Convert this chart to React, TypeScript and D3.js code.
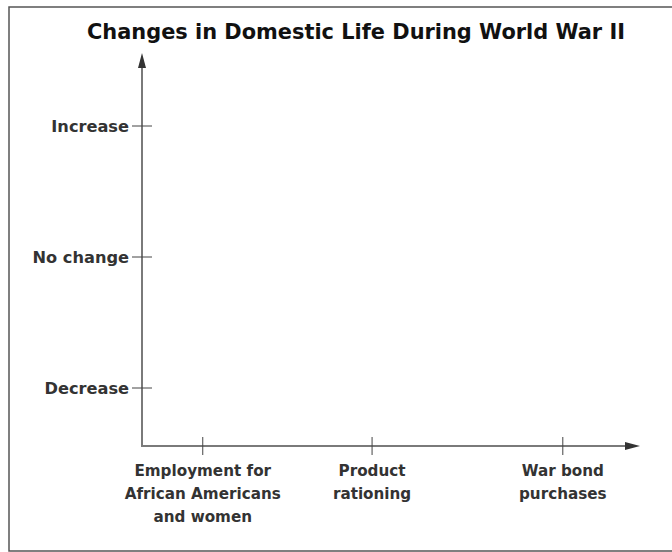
import React from "react";
import * as d3 from "d3";

const title = "Changes in Domestic Life During World War II";
const yLevels = ["Decrease", "No change", "Increase"];
const yValues = [-1, 0, 1];
const categories = [
  ["Employment for", "African Americans", "and women"],
  ["Product", "rationing"],
  ["War bond", "purchases"],
];
const categoryPositions = [1.22, 4.62, 8.45];

const W = 672;
const H = 552;
const FONT = "'DejaVu Sans', sans-serif";

export default function App() {
  const originX = 142;
  const originY = 446;
  const xEnd = 640;
  const yTop = 53;
  const x = d3.scaleLinear().domain([0, 10]).range([originX, xEnd]);
  const y = d3.scaleLinear().domain([-1, 1]).range([388, 126]);
  const axisColor = "#7a7a7a";
  const tickColor = "#444";
  const textColor = "#333";

  return (
    <svg
      width={W}
      height={H}
      style={{ position: "absolute", left: 0, top: 0, background: "#fff" }}
    >
      <rect x={9} y={7} width={W} height={544} fill="#fff" stroke="#555" strokeWidth={1.5} />
      <text
        x={356}
        y={39}
        textAnchor="middle"
        fontFamily={FONT}
        fontWeight="bold"
        fontSize={20.5}
        fill="#111"
        textLength={538}
        lengthAdjust="spacingAndGlyphs"
      >
        {title}
      </text>
      {/* y axis */}
      <line x1={originX} y1={originY} x2={originX} y2={yTop + 12} stroke={axisColor} strokeWidth={2} />
      <path
        d={`M${originX},${yTop} L${originX - 4},${yTop + 15} L${originX + 4},${yTop + 15} Z`}
        fill="#333"
      />
      {/* x axis */}
      <line x1={originX - 1} y1={originY} x2={xEnd - 12} y2={originY} stroke={axisColor} strokeWidth={2} />
      <path
        d={`M${xEnd},${originY} L${xEnd - 15},${originY - 4} L${xEnd - 15},${originY + 4} Z`}
        fill="#333"
      />
      {yValues.map((v, i) => (
        <g key={yLevels[i]}>
          <line x1={originX - 10} x2={originX + 10} y1={y(v)} y2={y(v)} stroke={tickColor} strokeWidth={1} />
          <text
            x={originX - 13}
            y={y(v)}
            dy="0.36em"
            textAnchor="end"
            fontFamily={FONT}
            fontWeight="bold"
            fontSize={16.2}
            fill={textColor}
          >
            {yLevels[i]}
          </text>
        </g>
      ))}
      {categories.map((lines, i) => {
        const cx = x(categoryPositions[i]);
        return (
          <g key={i}>
            <line x1={cx} x2={cx} y1={originY - 9} y2={originY + 9} stroke={tickColor} strokeWidth={1} />
            <text
              x={cx}
              y={476}
              textAnchor="middle"
              fontFamily={FONT}
              fontWeight="bold"
              fontSize={15.2}
              fill={textColor}
            >
              {lines.map((l, j) => (
                <tspan key={j} x={cx} dy={j === 0 ? 0 : 23}>
                  {l}
                </tspan>
              ))}
            </text>
          </g>
        );
      })}
    </svg>
  );
}
